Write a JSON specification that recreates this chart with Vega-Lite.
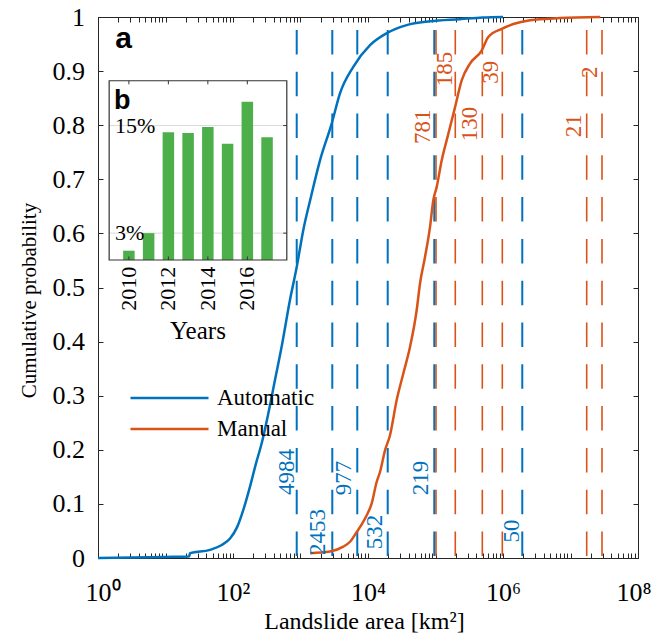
{
  "$schema": "https://vega.github.io/schema/vega-lite/v6.json",
  "width": 540,
  "height": 541,
  "autosize": {"type": "none"},
  "padding": {"left": 98, "top": 17, "right": 16, "bottom": 80},
  "background": "white",
  "config": {
    "view": {"stroke": "#262626", "strokeWidth": 1},
    "font": "Liberation Serif",
    "axis": {
      "domainColor": "#262626", "tickColor": "#262626", "labelColor": "#000000", "titleColor": "#000000",
      "labelFont": "Liberation Serif", "titleFont": "Liberation Serif", "labelFontSize": 26, "titleFontSize": 23,
      "titleFontWeight": "normal", "grid": false, "tickSize": -5, "labelFlush": false, "labelOverlap": false, "labelBound": false
    }
  },
  "datasets": {
    "curves": [
      {"area": 1, "p": 0, "series": "Automatic"},
      {"area": 10, "p": 0.002, "series": "Automatic"},
      {"area": 22.4, "p": 0.003, "series": "Automatic"},
      {"area": 23.1, "p": 0.009, "series": "Automatic"},
      {"area": 45.6, "p": 0.015, "series": "Automatic"},
      {"area": 68.1, "p": 0.024, "series": "Automatic"},
      {"area": 90.4, "p": 0.036, "series": "Automatic"},
      {"area": 115.9, "p": 0.058, "series": "Automatic"},
      {"area": 142.2, "p": 0.089, "series": "Automatic"},
      {"area": 178.6, "p": 0.132, "series": "Automatic"},
      {"area": 219.3, "p": 0.175, "series": "Automatic"},
      {"area": 266.1, "p": 0.212, "series": "Automatic"},
      {"area": 333.4, "p": 0.267, "series": "Automatic"},
      {"area": 418.8, "p": 0.329, "series": "Automatic"},
      {"area": 526, "p": 0.391, "series": "Automatic"},
      {"area": 698.2, "p": 0.477, "series": "Automatic"},
      {"area": 879, "p": 0.538, "series": "Automatic"},
      {"area": 1099, "p": 0.606, "series": "Automatic"},
      {"area": 1413, "p": 0.665, "series": "Automatic"},
      {"area": 1945, "p": 0.735, "series": "Automatic"},
      {"area": 2897, "p": 0.803, "series": "Automatic"},
      {"area": 3846, "p": 0.859, "series": "Automatic"},
      {"area": 6053, "p": 0.908, "series": "Automatic"},
      {"area": 10715, "p": 0.948, "series": "Automatic"},
      {"area": 18923, "p": 0.97, "series": "Automatic"},
      {"area": 37411, "p": 0.985, "series": "Automatic"},
      {"area": 82985, "p": 0.992, "series": "Automatic"},
      {"area": 230675, "p": 0.996, "series": "Automatic"},
      {"area": 501187, "p": 0.999, "series": "Automatic"},
      {"area": 1000000, "p": 1.0, "series": "Automatic"},
      {"area": 1384, "p": 0.009, "series": "Manual"},
      {"area": 2735, "p": 0.012, "series": "Manual"},
      {"area": 4305, "p": 0.021, "series": "Manual"},
      {"area": 5408, "p": 0.03, "series": "Manual"},
      {"area": 6808, "p": 0.048, "series": "Manual"},
      {"area": 8147, "p": 0.063, "series": "Manual"},
      {"area": 9572, "p": 0.079, "series": "Manual"},
      {"area": 11350, "p": 0.101, "series": "Manual"},
      {"area": 13459, "p": 0.141, "series": "Manual"},
      {"area": 15066, "p": 0.159, "series": "Manual"},
      {"area": 17865, "p": 0.199, "series": "Manual"},
      {"area": 21184, "p": 0.227, "series": "Manual"},
      {"area": 26607, "p": 0.292, "series": "Manual"},
      {"area": 33343, "p": 0.341, "series": "Manual"},
      {"area": 41879, "p": 0.39, "series": "Manual"},
      {"area": 52602, "p": 0.458, "series": "Manual"},
      {"area": 58884, "p": 0.507, "series": "Manual"},
      {"area": 69823, "p": 0.556, "series": "Manual"},
      {"area": 82985, "p": 0.612, "series": "Manual"},
      {"area": 92683, "p": 0.661, "series": "Manual"},
      {"area": 104232, "p": 0.686, "series": "Manual"},
      {"area": 123595, "p": 0.735, "series": "Manual"},
      {"area": 154882, "p": 0.784, "series": "Manual"},
      {"area": 194536, "p": 0.833, "series": "Manual"},
      {"area": 244343, "p": 0.883, "series": "Manual"},
      {"area": 324340, "p": 0.914, "series": "Manual"},
      {"area": 483059, "p": 0.938, "series": "Manual"},
      {"area": 605340, "p": 0.963, "series": "Manual"},
      {"area": 957194, "p": 0.978, "series": "Manual"},
      {"area": 1422329, "p": 0.987, "series": "Manual"},
      {"area": 2511886, "p": 0.994, "series": "Manual"},
      {"area": 6918310, "p": 0.998, "series": "Manual"},
      {"area": 27542287, "p": 1.0, "series": "Manual"}
    ],
    "cuts": [
      {"area": 879, "series": "Automatic"},
      {"area": 2958, "series": "Automatic"},
      {"area": 6936, "series": "Automatic"},
      {"area": 19588, "series": "Automatic"},
      {"area": 95940, "series": "Automatic"},
      {"area": 1930000, "series": "Automatic"},
      {"area": 101700, "series": "Manual"},
      {"area": 196400, "series": "Manual"},
      {"area": 493700, "series": "Manual"},
      {"area": 977000, "series": "Manual"},
      {"area": 17380000, "series": "Manual"},
      {"area": 29300000, "series": "Manual"}
    ],
    "counts": [
      {"area": 631, "p": 0.159, "n": "4984", "series": "Automatic"},
      {"area": 1837, "p": 0.048, "n": "2453", "series": "Automatic"},
      {"area": 4467, "p": 0.148, "n": "977", "series": "Automatic"},
      {"area": 12880, "p": 0.048, "n": "532", "series": "Automatic"},
      {"area": 61950, "p": 0.148, "n": "219", "series": "Automatic"},
      {"area": 1340000, "p": 0.05, "n": "50", "series": "Automatic"},
      {"area": 66370, "p": 0.797, "n": "781", "series": "Manual"},
      {"area": 136000, "p": 0.904, "n": "185", "series": "Manual"},
      {"area": 330000, "p": 0.802, "n": "130", "series": "Manual"},
      {"area": 655000, "p": 0.898, "n": "39", "series": "Manual"},
      {"area": 11100000, "p": 0.799, "n": "21", "series": "Manual"},
      {"area": 19300000, "p": 0.898, "n": "2", "series": "Manual"}
    ],
    "years": [
      {"year": 2010, "pct": 1.04},
      {"year": 2011, "pct": 3.0},
      {"year": 2012, "pct": 14.24},
      {"year": 2013, "pct": 14.17},
      {"year": 2014, "pct": 14.84},
      {"year": 2015, "pct": 12.97},
      {"year": 2016, "pct": 17.66},
      {"year": 2017, "pct": 13.69}
    ],
    "yearTicks": [{"year": 2010}, {"year": 2012}, {"year": 2014}, {"year": 2016}],
    "pctTicks": [{"pct": 3, "label": "3%"}, {"pct": 15, "label": "15%"}]
  },
  "layer": [
    {
      "layer": [
        {
          "data": {"name": "cuts"},
          "transform": [{"filter": "datum.series == 'Automatic'"}],
          "mark": {"type": "rule", "color": "#0072BD", "strokeWidth": 2, "strokeDash": [24.5, 17.3], "strokeDashOffset": 39.8},
          "encoding": {
            "x": {"field": "area", "type": "quantitative", "scale": {"type": "log", "domain": [1, 100000000], "nice": false}, "axis": null},
            "y": {"datum": 0, "type": "quantitative", "scale": {"domain": [0, 1], "nice": false}, "axis": null},
            "y2": {"datum": 1}
          }
        },
        {
          "data": {"name": "cuts"},
          "transform": [{"filter": "datum.series == 'Manual'"}],
          "mark": {"type": "rule", "color": "#D95319", "strokeWidth": 1.6, "strokeDash": [24.5, 17.3], "strokeDashOffset": 39.8},
          "encoding": {
            "x": {"field": "area", "type": "quantitative", "scale": {"type": "log", "domain": [1, 100000000], "nice": false}, "axis": null},
            "y": {"datum": 0, "type": "quantitative", "scale": {"domain": [0, 1], "nice": false}, "axis": null},
            "y2": {"datum": 1}
          }
        },
        {
          "data": {"name": "curves"},
          "mark": {"type": "line", "strokeWidth": 2.5, "interpolate": "monotone"},
          "encoding": {
            "x": {
              "field": "area", "type": "quantitative",
              "scale": {"type": "log", "domain": [1, 100000000], "nice": false},
              "axis": {
                "orient": "bottom", "title": "Landslide area [km²]", "titleFontSize": 24, "titlePadding": 4, "titleX": 266, "labelPadding": 26,
                "labelFlush": true, "labelFlushOffset": 13,
                "values": [1,2,3,4,5,6,7,8,9,10,20,30,40,50,60,70,80,90,100,200,300,400,500,600,700,800,900,1000,2000,3000,4000,5000,6000,7000,8000,9000,10000,20000,30000,40000,50000,60000,70000,80000,90000,100000,200000,300000,400000,500000,600000,700000,800000,900000,1000000,2000000,3000000,4000000,5000000,6000000,7000000,8000000,9000000,10000000,20000000,30000000,40000000,50000000,60000000,70000000,80000000,90000000,100000000],
                "labelExpr": "(abs(log(datum.value)/LN10 - round(log(datum.value)/LN10)) < 0.001 && round(log(datum.value)/LN10) % 2 == 0) ? '10' + ['⁰','¹','²','³','⁴','⁵','⁶','⁷','⁸'][round(log(datum.value)/LN10)] : ''"
              }
            },
            "y": {
              "field": "p", "type": "quantitative",
              "scale": {"domain": [0, 1], "nice": false},
              "axis": {"orient": "left", "title": "Cumulative probability", "titleFontSize": 21, "titleY": 283, "values": [0,0.1,0.2,0.3,0.4,0.5,0.6,0.7,0.8,0.9,1], "format": ".1~f", "labelPadding": 18.5, "titlePadding": 13}
            },
            "color": {
              "field": "series", "type": "nominal",
              "scale": {"domain": ["Automatic", "Manual"], "range": ["#0072BD", "#D95319"]},
              "legend": {
                "title": null, "orient": "none", "legendX": 31, "legendY": 371, "padding": 0,
                "symbolType": "stroke", "symbolSize": 6084, "symbolStrokeWidth": 2.5, "clipHeight": 20, "rowPadding": 8,
                "labelFont": "Liberation Serif", "labelFontSize": 23, "labelColor": "#000000", "labelOffset": 7
              }
            }
          }
        },
        {
          "data": {"name": "counts"},
          "transform": [{"filter": "datum.series == 'Automatic'"}],
          "mark": {"type": "text", "angle": 270, "align": "center", "baseline": "middle", "font": "Liberation Serif", "fontSize": 23, "color": "#0072BD"},
          "encoding": {
            "x": {
              "field": "area", "type": "quantitative", "scale": {"type": "log", "domain": [1, 100000000], "nice": false},
              "axis": {
                "orient": "top", "title": null, "labels": false,
                "values": [1,2,3,4,5,6,7,8,9,10,20,30,40,50,60,70,80,90,100,200,300,400,500,600,700,800,900,1000,2000,3000,4000,5000,6000,7000,8000,9000,10000,20000,30000,40000,50000,60000,70000,80000,90000,100000,200000,300000,400000,500000,600000,700000,800000,900000,1000000,2000000,3000000,4000000,5000000,6000000,7000000,8000000,9000000,10000000,20000000,30000000,40000000,50000000,60000000,70000000,80000000,90000000,100000000]
              }
            },
            "y": {
              "field": "p", "type": "quantitative", "scale": {"domain": [0, 1], "nice": false},
              "axis": {"orient": "right", "title": null, "labels": false, "values": [0,0.1,0.2,0.3,0.4,0.5,0.6,0.7,0.8,0.9,1]}
            },
            "text": {"field": "n", "type": "nominal"}
          }
        },
        {
          "data": {"name": "counts"},
          "transform": [{"filter": "datum.series == 'Manual'"}],
          "mark": {"type": "text", "angle": 270, "align": "center", "baseline": "middle", "font": "Liberation Serif", "fontSize": 23, "color": "#D95319"},
          "encoding": {
            "x": {"field": "area", "type": "quantitative", "scale": {"type": "log", "domain": [1, 100000000], "nice": false}, "axis": null},
            "y": {"field": "p", "type": "quantitative", "scale": {"domain": [0, 1], "nice": false}, "axis": null},
            "text": {"field": "n", "type": "nominal"}
          }
        },
        {
          "data": {"values": [{"t": "a"}]},
          "mark": {"type": "text", "align": "left", "baseline": "alphabetic", "font": "Liberation Sans", "fontWeight": "bold", "fontSize": 30, "color": "#000000"},
          "encoding": {
            "x": {"datum": 1.8, "type": "quantitative", "scale": {"type": "log", "domain": [1, 100000000], "nice": false}, "axis": null},
            "y": {"datum": 0.942, "type": "quantitative", "scale": {"domain": [0, 1], "nice": false}, "axis": null},
            "text": {"field": "t"}
          }
        }
      ],
      "resolve": {"axis": {"x": "independent", "y": "independent"}}
    },
    {
      "layer": [
        {
          "data": {"values": [{}]},
          "mark": {"type": "rect", "fill": "white", "stroke": null},
          "encoding": {
            "x": {"datum": 2009, "type": "quantitative", "scale": {"domain": [2008.688, 2035.54], "nice": false, "zero": false}, "axis": null},
            "x2": {"datum": 2018},
            "y": {"datum": 0, "type": "quantitative", "scale": {"domain": [-33.24, 27.11], "nice": false, "zero": false}, "axis": null},
            "y2": {"datum": 20}
          }
        },
        {
          "data": {"name": "pctTicks"},
          "mark": {"type": "rule", "color": "#DADADA", "strokeWidth": 1},
          "encoding": {
            "x": {"datum": 2009, "type": "quantitative", "scale": {"domain": [2008.688, 2035.54], "nice": false, "zero": false}, "axis": null},
            "x2": {"datum": 2018},
            "y": {"field": "pct", "type": "quantitative", "scale": {"domain": [-33.24, 27.11], "nice": false, "zero": false}, "axis": null}
          }
        },
        {
          "data": {"name": "years"},
          "mark": {"type": "bar", "color": "#4DAF4A", "size": 11.5},
          "encoding": {
            "x": {"field": "year", "type": "quantitative", "scale": {"domain": [2008.688, 2035.54], "nice": false, "zero": false}, "axis": null},
            "y": {"field": "pct", "type": "quantitative", "scale": {"domain": [-33.24, 27.11], "nice": false, "zero": false}, "axis": null}
          }
        },
        {
          "data": {"values": [{}]},
          "mark": {"type": "rect", "fill": null, "stroke": "#333333", "strokeWidth": 1.2},
          "encoding": {
            "x": {"datum": 2009, "type": "quantitative", "scale": {"domain": [2008.688, 2035.54], "nice": false, "zero": false}, "axis": null},
            "x2": {"datum": 2018},
            "y": {"datum": 0, "type": "quantitative", "scale": {"domain": [-33.24, 27.11], "nice": false, "zero": false}, "axis": null},
            "y2": {"datum": 20}
          }
        },
        {
          "data": {"name": "yearTicks"},
          "mark": {"type": "rule", "color": "#333333", "strokeWidth": 1},
          "encoding": {
            "x": {"field": "year", "type": "quantitative", "scale": {"domain": [2008.688, 2035.54], "nice": false, "zero": false}, "axis": null},
            "y": {"datum": 0, "type": "quantitative", "scale": {"domain": [-33.24, 27.11], "nice": false, "zero": false}, "axis": null},
            "y2": {"datum": 0.4}
          }
        },
        {
          "data": {"name": "yearTicks"},
          "mark": {"type": "rule", "color": "#333333", "strokeWidth": 1},
          "encoding": {
            "x": {"field": "year", "type": "quantitative", "scale": {"domain": [2008.688, 2035.54], "nice": false, "zero": false}, "axis": null},
            "y": {"datum": 19.6, "type": "quantitative", "scale": {"domain": [-33.24, 27.11], "nice": false, "zero": false}, "axis": null},
            "y2": {"datum": 20}
          }
        },
        {
          "data": {"name": "pctTicks"},
          "mark": {"type": "rule", "color": "#333333", "strokeWidth": 1},
          "encoding": {
            "x": {"datum": 2017.82, "type": "quantitative", "scale": {"domain": [2008.688, 2035.54], "nice": false, "zero": false}, "axis": null},
            "x2": {"datum": 2018},
            "y": {"field": "pct", "type": "quantitative", "scale": {"domain": [-33.24, 27.11], "nice": false, "zero": false}, "axis": null}
          }
        },
        {
          "data": {"name": "yearTicks"},
          "mark": {"type": "text", "angle": 270, "align": "right", "baseline": "middle", "font": "Liberation Serif", "fontSize": 22, "color": "#000000"},
          "encoding": {
            "x": {"field": "year", "type": "quantitative", "scale": {"domain": [2008.688, 2035.54], "nice": false, "zero": false}, "axis": null},
            "y": {"datum": -0.75, "type": "quantitative", "scale": {"domain": [-33.24, 27.11], "nice": false, "zero": false}, "axis": null},
            "text": {"field": "year", "type": "quantitative", "format": "d"}
          }
        },
        {
          "data": {"name": "pctTicks"},
          "mark": {"type": "text", "align": "left", "baseline": "middle", "font": "Liberation Serif", "fontSize": 22, "color": "#000000"},
          "encoding": {
            "x": {"datum": 2009.3, "type": "quantitative", "scale": {"domain": [2008.688, 2035.54], "nice": false, "zero": false}, "axis": null},
            "y": {"field": "pct", "type": "quantitative", "scale": {"domain": [-33.24, 27.11], "nice": false, "zero": false}, "axis": null},
            "text": {"field": "label"}
          }
        },
        {
          "data": {"values": [{"t": "Years"}]},
          "mark": {"type": "text", "align": "center", "baseline": "middle", "font": "Liberation Serif", "fontSize": 25, "color": "#000000"},
          "encoding": {
            "x": {"datum": 2013.5, "type": "quantitative", "scale": {"domain": [2008.688, 2035.54], "nice": false, "zero": false}, "axis": null},
            "y": {"datum": -7.9, "type": "quantitative", "scale": {"domain": [-33.24, 27.11], "nice": false, "zero": false}, "axis": null},
            "text": {"field": "t"}
          }
        },
        {
          "data": {"values": [{"t": "b"}]},
          "mark": {"type": "text", "align": "left", "baseline": "alphabetic", "font": "Liberation Sans", "fontWeight": "bold", "fontSize": 27, "color": "#000000"},
          "encoding": {
            "x": {"datum": 2009.25, "type": "quantitative", "scale": {"domain": [2008.688, 2035.54], "nice": false, "zero": false}, "axis": null},
            "y": {"datum": 16.9, "type": "quantitative", "scale": {"domain": [-33.24, 27.11], "nice": false, "zero": false}, "axis": null},
            "text": {"field": "t"}
          }
        }
      ]
    }
  ],
  "resolve": {"scale": {"x": "independent", "y": "independent"}}
}
